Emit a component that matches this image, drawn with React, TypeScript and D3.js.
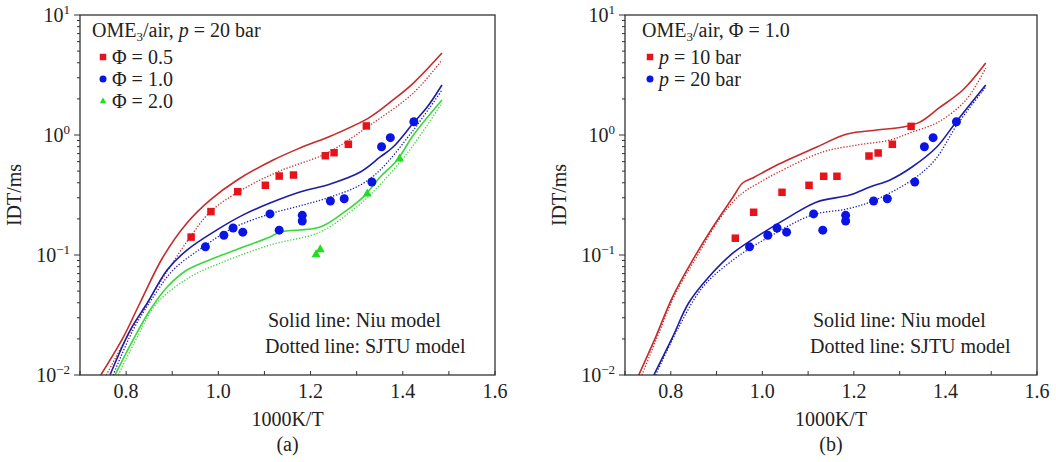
import * as d3 from 'd3'

const W = 1056
const H = 462
const TOP = 15
const BOTTOM = 375
const FONT = '"Liberation Serif", "Times New Roman", serif'
const FS = 20

const xTicks = [0.8, 1.0, 1.2, 1.4, 1.6]
const yExps = [-2, -1, 0, 1]

// (a) experiments, p = 20 bar
const phi05X = [0.941, 0.984, 1.042, 1.102, 1.132, 1.163, 1.232, 1.251, 1.282, 1.321]
const phi05Y = [0.141, 0.23, 0.337, 0.381, 0.455, 0.464, 0.672, 0.712, 0.837, 1.19]
const phi10X = [0.972, 1.012, 1.032, 1.053, 1.112, 1.132, 1.182, 1.182, 1.243, 1.273, 1.333, 1.354, 1.373, 1.424]
const phi10Y = [0.117, 0.146, 0.168, 0.155, 0.22, 0.161, 0.214, 0.192, 0.282, 0.294, 0.406, 0.799, 0.95, 1.29]
const phi20X = [1.212, 1.221, 1.323, 1.393]
const phi20Y = [0.102, 0.112, 0.327, 0.639]

// (a) model curves
const aRedNiuX = [0.745, 0.794, 0.83, 0.88, 0.932, 0.982, 1.041, 1.119, 1.177, 1.249, 1.329, 1.379, 1.423, 1.485]
const aRedNiuY = [0.01, 0.0207, 0.0398, 0.0962, 0.185, 0.287, 0.422, 0.619, 0.779, 1.0, 1.41, 1.96, 2.71, 4.82]
const aRedSjtuX = [0.757, 0.802, 0.846, 0.895, 0.939, 0.982, 1.043, 1.128, 1.236, 1.323, 1.423, 1.485]
const aRedSjtuY = [0.01, 0.0207, 0.0398, 0.0794, 0.141, 0.228, 0.335, 0.492, 0.708, 1.166, 2.24, 4.22]
const aBlueNiuX = [0.765, 0.809, 0.846, 0.889, 0.932, 0.997, 1.054, 1.112, 1.177, 1.243, 1.308, 1.351, 1.379, 1.423, 1.453, 1.485]
const aBlueNiuY = [0.01, 0.0237, 0.0398, 0.075, 0.11, 0.162, 0.216, 0.271, 0.335, 0.391, 0.492, 0.656, 0.794, 1.259, 1.71, 2.61]
const aBlueSjtuX = [0.772, 0.815, 0.859, 0.902, 0.967, 1.032, 1.112, 1.184, 1.243, 1.308, 1.351, 1.423, 1.485]
const aBlueSjtuY = [0.01, 0.0237, 0.0447, 0.075, 0.1166, 0.168, 0.22, 0.261, 0.304, 0.383, 0.511, 1.1, 2.37]
const aGreenNiuX = [0.776, 0.815, 0.852, 0.889, 0.932, 0.997, 1.054, 1.112, 1.134, 1.221, 1.279, 1.314, 1.351, 1.388, 1.423, 1.485]
const aGreenNiuY = [0.01, 0.0196, 0.0348, 0.0541, 0.075, 0.0962, 0.1166, 0.141, 0.1555, 0.171, 0.237, 0.304, 0.447, 0.619, 1.0, 1.96]
const aGreenSjtuX = [0.783, 0.824, 0.867, 0.939, 1.01, 1.112, 1.221, 1.286, 1.329, 1.41, 1.485]
const aGreenSjtuY = [0.01, 0.0207, 0.0398, 0.0656, 0.0874, 0.121, 0.1555, 0.228, 0.316, 0.708, 1.85]

// (b) experiments, Phi = 1.0
const p10X = [0.941, 0.981, 1.043, 1.102, 1.134, 1.163, 1.233, 1.253, 1.284, 1.325]
const p10Y = [0.138, 0.227, 0.333, 0.381, 0.453, 0.453, 0.668, 0.708, 0.837, 1.18]
const p20X = phi10X
const p20Y = phi10Y

// (b) model curves
const bRedNiuX = [0.73, 0.767, 0.804, 0.848, 0.892, 0.936, 0.957, 0.979, 1.032, 1.119, 1.185, 1.25, 1.307, 1.344, 1.386, 1.438, 1.488]
const bRedNiuY = [0.01, 0.0207, 0.0447, 0.0909, 0.171, 0.304, 0.398, 0.438, 0.562, 0.794, 1.02, 1.1, 1.166, 1.28, 1.68, 2.37, 3.98]
const bRedSjtuX = [0.737, 0.774, 0.811, 0.859, 0.905, 0.944, 0.966, 0.992, 1.032, 1.132, 1.207, 1.279, 1.322, 1.384, 1.445, 1.488]
const bRedSjtuY = [0.01, 0.0224, 0.0482, 0.1, 0.196, 0.299, 0.348, 0.398, 0.483, 0.722, 0.825, 0.908, 1.04, 1.28, 1.96, 3.62]
const bBlueNiuX = [0.763, 0.804, 0.839, 0.883, 0.936, 1.001, 1.058, 1.119, 1.191, 1.235, 1.279, 1.327, 1.381, 1.423, 1.488]
const bBlueNiuY = [0.01, 0.0207, 0.0398, 0.0656, 0.104, 0.153, 0.207, 0.277, 0.316, 0.369, 0.422, 0.541, 0.794, 1.28, 2.61]
const bBlueSjtuX = [0.767, 0.8175, 0.87, 0.936, 1.014, 1.11, 1.185, 1.2415, 1.327, 1.377, 1.425, 1.488]
const bBlueSjtuY = [0.01, 0.0251, 0.0541, 0.0909, 0.141, 0.216, 0.242, 0.282, 0.422, 0.619, 1.21, 2.51]

const RED_LINE = '#c62a2a'
const BLUE_LINE = '#1c1ca8'
const GREEN_LINE = '#3ad83a'
const RED_MK = '#e6141a'
const BLUE_MK = '#0a14e6'
const GREEN_MK = '#1ee01e'

const zip = (xs: number[], ys: number[]) => xs.map((v, i) => [v, ys[i]] as [number, number])

type Curve = { xs: number[]; ys: number[]; color: string; dotted: boolean }
type Pts = { xs: number[]; ys: number[]; color: string; shape: 'square' | 'circle' | 'triangle' }

function Marker({ cx, cy, shape, color, s }: { cx: number; cy: number; shape: string; color: string; s: number }) {
  if (shape === 'square') return <rect x={cx - s / 2} y={cy - s / 2} width={s} height={s} fill={color} />
  if (shape === 'circle') return <circle cx={cx} cy={cy} r={s / 2} fill={color} />
  const h = s * 0.9
  return <path d={`M${cx},${cy - h * 0.6}L${cx + s / 2},${cy + h * 0.4}L${cx - s / 2},${cy + h * 0.4}Z`} fill={color} />
}

function Panel({ left, right, curves, points, title, items, label, legendX, legendMkX }: {
  left: number; right: number; curves: Curve[]; points: Pts[]
  title: JSX.Element; items: { shape: string; color: string; text: JSX.Element }[]
  label: string; legendX: number; legendMkX: number
}) {
  const x = d3.scaleLinear().domain([0.7, 1.6]).range([left, right])
  const y = d3.scaleLog().domain([0.01, 10]).range([BOTTOM, TOP])
  const line = d3.line<[number, number]>().x(d => x(d[0])).y(d => y(d[1])).curve(d3.curveCatmullRom.alpha(0.5))
  const minorX = d3.range(7, 17).map(v => v / 10)
  const minorY: number[] = []
  for (let e = -2; e < 1; e++) for (let k = 2; k < 10; k++) minorY.push(k * Math.pow(10, e))
  const cx = (left + right) / 2
  const axis = '#333'
  return (
    <g>
      {curves.map((c, i) => (
        <path key={i} d={line(zip(c.xs, c.ys)) || ''} fill="none" stroke={c.color}
          strokeWidth={c.dotted ? 1.3 : 1.6} strokeDasharray={c.dotted ? '1.3,1.7' : undefined} />
      ))}
      {points.map((p, i) => p.xs.map((v, j) => (
        <Marker key={`${i}-${j}`} cx={x(v)} cy={y(p.ys[j])} shape={p.shape} color={p.color}
          s={p.shape === 'square' ? 7.5 : 9} />
      )))}
      {/* frame */}
      <rect x={left} y={TOP} width={right - left} height={BOTTOM - TOP} fill="none" stroke={axis} strokeWidth={1.3} />
      {minorX.map(v => (
        <line key={v} x1={x(v)} x2={x(v)} y1={BOTTOM} y2={BOTTOM - 4} stroke={axis} strokeWidth={1} />
      ))}
      {yExps.map(e => (
        <line key={e} x1={left - 6} x2={left} y1={y(Math.pow(10, e))} y2={y(Math.pow(10, e))} stroke={axis} strokeWidth={1} />
      ))}
      {minorY.map(v => (
        <line key={v} x1={left - 3} x2={left} y1={y(v)} y2={y(v)} stroke={axis} strokeWidth={1} />
      ))}
      {xTicks.map(v => (
        <text key={v} x={x(v)} y={398} textAnchor="middle" fontSize={FS}>{v.toFixed(1)}</text>
      ))}
      {yExps.map(e => (
        <text key={e} x={left - 10} y={y(Math.pow(10, e)) + 7} textAnchor="end" fontSize={FS}>
          10<tspan dy={-8} fontSize={13}>{e < 0 ? `\u2212${-e}` : e}</tspan>
        </text>
      ))}
      <text x={cx} y={426} textAnchor="middle" fontSize={FS}>1000K/T</text>
      <text x={cx} y={451} textAnchor="middle" fontSize={FS}>{label}</text>
      <text transform={`translate(${left - 59},195) rotate(-90)`} textAnchor="middle" fontSize={FS}>IDT/ms</text>
      <text x={left + legendX} y={37} fontSize={FS}>{title}</text>
      {items.map((it, i) => (
        <g key={i}>
          <Marker cx={left + legendMkX} cy={57 + i * 22} shape={it.shape} color={it.color}
            s={it.shape === 'circle' ? 7 : 6.5} />
          <text x={left + legendMkX + 9} y={64 + i * 22} fontSize={FS}>{it.text}</text>
        </g>
      ))}
      <text x={left + 188} y={327} fontSize={FS}>Solid line: Niu model</text>
      <text x={left + 185} y={353} fontSize={FS}>Dotted line: SJTU model</text>
    </g>
  )
}

export default function App() {
  const aCurves: Curve[] = [
    { xs: aRedNiuX, ys: aRedNiuY, color: RED_LINE, dotted: false },
    { xs: aRedSjtuX, ys: aRedSjtuY, color: RED_LINE, dotted: true },
    { xs: aBlueNiuX, ys: aBlueNiuY, color: BLUE_LINE, dotted: false },
    { xs: aBlueSjtuX, ys: aBlueSjtuY, color: BLUE_LINE, dotted: true },
    { xs: aGreenNiuX, ys: aGreenNiuY, color: GREEN_LINE, dotted: false },
    { xs: aGreenSjtuX, ys: aGreenSjtuY, color: GREEN_LINE, dotted: true },
  ]
  const bCurves: Curve[] = [
    { xs: bRedNiuX, ys: bRedNiuY, color: RED_LINE, dotted: false },
    { xs: bRedSjtuX, ys: bRedSjtuY, color: RED_LINE, dotted: true },
    { xs: bBlueNiuX, ys: bBlueNiuY, color: BLUE_LINE, dotted: false },
    { xs: bBlueSjtuX, ys: bBlueSjtuY, color: BLUE_LINE, dotted: true },
  ]
  const aPts: Pts[] = [
    { xs: phi05X, ys: phi05Y, color: RED_MK, shape: 'square' },
    { xs: phi10X, ys: phi10Y, color: BLUE_MK, shape: 'circle' },
    { xs: phi20X, ys: phi20Y, color: GREEN_MK, shape: 'triangle' },
  ]
  const bPts: Pts[] = [
    { xs: p10X, ys: p10Y, color: RED_MK, shape: 'square' },
    { xs: p20X, ys: p20Y, color: BLUE_MK, shape: 'circle' },
  ]
  const sub = <tspan dy={4} fontSize={13}>3</tspan>
  return (
    <div style={{ position: 'absolute', left: 0, top: 0 }}>
      <svg width={W} height={H} fontFamily={FONT} fill="#222" style={{ display: 'block', background: '#fff' }}>
        <Panel left={80} right={495} curves={aCurves} points={aPts} label="(a)" legendX={12} legendMkX={23}
          title={<>OME{sub}<tspan dy={-4}>/air, </tspan><tspan fontStyle="italic">p</tspan> = 20 bar</>}
          items={[
            { shape: 'square', color: RED_MK, text: <>{'\u03A6 = 0.5'}</> },
            { shape: 'circle', color: BLUE_MK, text: <>{'\u03A6 = 1.0'}</> },
            { shape: 'triangle', color: GREEN_MK, text: <>{'\u03A6 = 2.0'}</> },
          ]} />
        <Panel left={625} right={1037} curves={bCurves} points={bPts} label="(b)" legendX={17} legendMkX={25}
          title={<>OME{sub}<tspan dy={-4}>/air, {'\u03A6'} = 1.0</tspan></>}
          items={[
            { shape: 'square', color: RED_MK, text: <><tspan fontStyle="italic">p</tspan> = 10 bar</> },
            { shape: 'circle', color: BLUE_MK, text: <><tspan fontStyle="italic">p</tspan> = 20 bar</> },
          ]} />
      </svg>
    </div>
  )
}
